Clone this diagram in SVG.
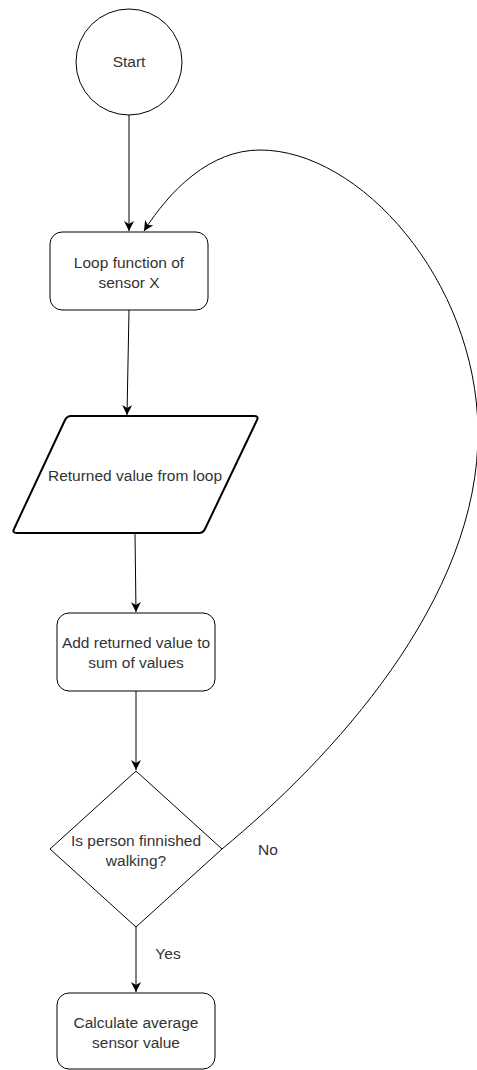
<svg xmlns="http://www.w3.org/2000/svg" width="477" height="1070" viewBox="0 0 477 1070">
<defs>
<style>
.shape{fill:#fff;stroke:#000;stroke-width:1}
.para{fill:#fff;stroke:#000;stroke-width:2;stroke-linejoin:round}
.edge{fill:none;stroke:#000;stroke-width:1}
text{font-family:"Liberation Sans",Arial,sans-serif;font-size:15.5px;fill:#333;text-anchor:middle}
</style>
<marker id="arr" viewBox="0 0 10 10" refX="10" refY="5" markerWidth="10" markerHeight="10" markerUnits="userSpaceOnUse" orient="auto">
<path d="M0,0 L10,5 L0,10 L3,5 Z" fill="#000"/>
</marker>
</defs>
<rect width="477" height="1070" fill="#fff"/>
<g id="connectors">
<line class="edge" x1="129" y1="115" x2="129" y2="231" marker-end="url(#arr)"/>
<line class="edge" x1="129" y1="310" x2="127" y2="415" marker-end="url(#arr)"/>
<line class="edge" x1="135" y1="534" x2="136" y2="612" marker-end="url(#arr)"/>
<line class="edge" x1="136" y1="691" x2="136" y2="770" marker-end="url(#arr)"/>
<line class="edge" x1="136" y1="927" x2="136" y2="992" marker-end="url(#arr)"/>
<path class="edge" d="M222,849 C330,760 480,600 478,430 C476,280 360,150 260,150 C210,150 170,190 144,231" marker-end="url(#arr)"/>
</g>
<g id="start">
<circle class="shape" cx="129" cy="62" r="53"/>
<text x="129" y="67">Start</text>
</g>
<g id="loop">
<rect class="shape" x="50" y="232" width="158" height="78" rx="12"/>
<text x="129" y="268">Loop function of</text>
<text x="129" y="288">sensor X</text>
</g>
<g id="returned">
<path class="para" d="M71,416 L254,416 Q259,416 257,420 L205,529 Q203,533 199,533 L17,533 Q12,533 14,529 L65,420 Q67,416 71,416 Z"/>
<text x="135" y="481">Returned value from loop</text>
</g>
<g id="add">
<rect class="shape" x="57" y="613" width="158" height="78" rx="12"/>
<text x="136" y="648">Add returned value to</text>
<text x="136" y="668">sum of values</text>
</g>
<g id="decision">
<polygon class="shape" points="136,771 222,849 136,927 50,849"/>
<text x="136" y="846">Is person finnished</text>
<text x="136" y="866">walking?</text>
</g>
<g id="labels">
<text x="268" y="855">No</text>
<text x="168" y="959">Yes</text>
</g>
<g id="calc">
<rect class="shape" x="57" y="993" width="158" height="76" rx="12"/>
<text x="136" y="1028">Calculate average</text>
<text x="136" y="1048">sensor value</text>
</g>
</svg>
